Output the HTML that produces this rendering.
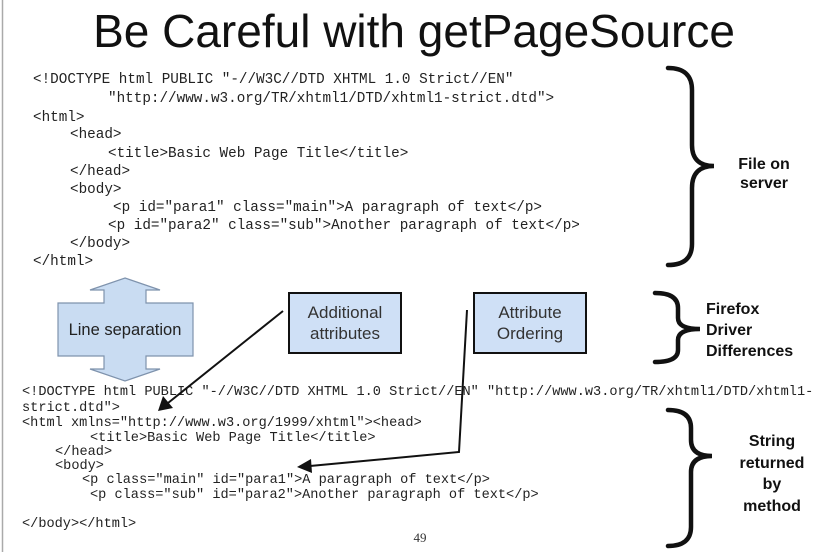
<!DOCTYPE html>
<html><head><style>
html,body{margin:0;padding:0;background:#fff;}
body{width:829px;height:552px;position:relative;overflow:hidden;}
svg{position:absolute;left:0;top:0;}
.c{font-family:"Liberation Mono",monospace;fill:#222;}
.t{font-family:"Liberation Sans",sans-serif;}
</style></head><body>
<svg width="829" height="552" viewBox="0 0 829 552">
<line x1="2.5" y1="0" x2="2.5" y2="552" stroke="#aaa" stroke-width="1.5"/>
<text x="414" y="47" text-anchor="middle" class="t" font-size="46" fill="#111">Be Careful with getPageSource</text>
<g class="c" font-size="14.3">
<text x="33" y="83">&lt;!DOCTYPE html PUBLIC "-//W3C//DTD XHTML 1.0 Strict//EN"</text>
<text x="108" y="102">"http://www.w3.org/TR/xhtml1/DTD/xhtml1-strict.dtd"&gt;</text>
<text x="33" y="121">&lt;html&gt;</text>
<text x="70" y="138">&lt;head&gt;</text>
<text x="108" y="157">&lt;title&gt;Basic Web Page Title&lt;/title&gt;</text>
<text x="70" y="175">&lt;/head&gt;</text>
<text x="70" y="193">&lt;body&gt;</text>
<text x="113" y="211">&lt;p id="para1" class="main"&gt;A paragraph of text&lt;/p&gt;</text>
<text x="108" y="229">&lt;p id="para2" class="sub"&gt;Another paragraph of text&lt;/p&gt;</text>
<text x="70" y="247">&lt;/body&gt;</text>
<text x="33" y="265">&lt;/html&gt;</text>
</g>
<g class="c" font-size="13.6">
<text x="22" y="395">&lt;!DOCTYPE html PUBLIC "-//W3C//DTD XHTML 1.0 Strict//EN" "http://www.w3.org/TR/xhtml1/DTD/xhtml1-</text>
<text x="22" y="411">strict.dtd"&gt;</text>
<text x="22" y="426">&lt;html xmlns="http://www.w3.org/1999/xhtml"&gt;&lt;head&gt;</text>
<text x="90" y="441">&lt;title&gt;Basic Web Page Title&lt;/title&gt;</text>
<text x="55" y="455">&lt;/head&gt;</text>
<text x="55" y="469">&lt;body&gt;</text>
<text x="82" y="483">&lt;p class="main" id="para1"&gt;A paragraph of text&lt;/p&gt;</text>
<text x="90" y="498">&lt;p class="sub" id="para2"&gt;Another paragraph of text&lt;/p&gt;</text>
<text x="22" y="527">&lt;/body&gt;&lt;/html&gt;</text>
</g>
<text x="420" y="542" font-family="Liberation Serif,serif" font-size="13" text-anchor="middle" fill="#333">49</text>
<polygon points="125,278 160,290 146,290 146,303 193,303 193,356 146,356 146,369 160,369 125,381 90,369 104,369 104,356 58,356 58,303 104,303 104,290 90,290" fill="#c9dcf2" stroke="#7f93ad" stroke-width="1.2"/>
<text x="125" y="335" text-anchor="middle" class="t" font-size="16.5" fill="#222">Line separation</text>
<rect x="289" y="293" width="112" height="60" fill="#cfe0f6" stroke="#111" stroke-width="2"/>
<text x="345" y="318" text-anchor="middle" class="t" font-size="17" fill="#333">Additional</text>
<text x="345" y="339" text-anchor="middle" class="t" font-size="17" fill="#333">attributes</text>
<rect x="474" y="293" width="112" height="60" fill="#cfe0f6" stroke="#111" stroke-width="2"/>
<text x="530" y="318" text-anchor="middle" class="t" font-size="17" fill="#333">Attribute</text>
<text x="530" y="339" text-anchor="middle" class="t" font-size="17" fill="#333">Ordering</text>
<line x1="283" y1="311" x2="168" y2="403" stroke="#111" stroke-width="2"/>
<polygon points="158,411 163,396 173,408" fill="#111"/>
<polyline points="467,310 459,452 310,466" fill="none" stroke="#111" stroke-width="2"/>
<polygon points="297,467 311,459 312,473" fill="#111"/>
<g fill="none" stroke="#111" stroke-width="4.5" stroke-linecap="round">
<path d="M668,68 Q692,68 692,90 L692,145 Q692,166 714,166 Q692,166 692,188 L692,244 Q692,265 668,265"/>
<path d="M655,293 Q678,293 678,308 L678,318 Q678,329 700,329 Q678,329 678,340 L678,350 Q678,362 655,362"/>
<path d="M668,410 Q691,410 691,428 L691,440 Q691,456 712,456 Q691,456 691,472 L691,527 Q691,546 668,546"/>
</g>
<g class="t" font-weight="bold" font-size="16" fill="#111">
<text x="764" y="169" text-anchor="middle">File on</text>
<text x="764" y="188" text-anchor="middle">server</text>
<text x="706" y="314">Firefox</text>
<text x="706" y="335">Driver</text>
<text x="706" y="356">Differences</text>
<text x="772" y="446" text-anchor="middle">String</text>
<text x="772" y="468" text-anchor="middle">returned</text>
<text x="772" y="489" text-anchor="middle">by</text>
<text x="772" y="511" text-anchor="middle">method</text>
</g>
</svg>
</body></html>
